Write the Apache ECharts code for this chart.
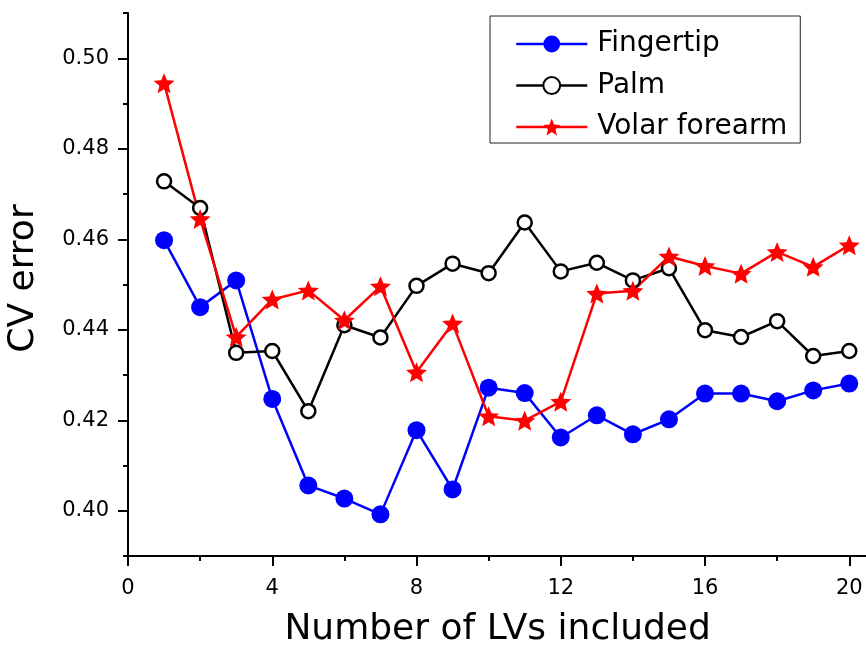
<!DOCTYPE html>
<html>
<head>
<meta charset="utf-8">
<script src="https://cdn.jsdelivr.net/npm/echarts@6/dist/echarts.min.js"></script>
<style>
  html, body { margin: 0; padding: 0; background: #fff; }
  #chart { width: 866px; height: 648px; }
</style>
</head>
<body>
<div id="chart"></div>
<script>
// Number of latent variables included in the model
const lvCount = [1, 2, 3, 4, 5, 6, 7, 8, 9, 10, 11, 12, 13, 14, 15, 16, 17, 18, 19, 20];

// Cross-validation error per measurement site
const fingertip = [0.4598, 0.4450, 0.4509, 0.4247, 0.4056, 0.4027, 0.3992, 0.4178, 0.4047, 0.4272,
                   0.4260, 0.4162, 0.4211, 0.4169, 0.4202, 0.4259, 0.4259, 0.4242, 0.4266, 0.4281];
const palm      = [0.4728, 0.4669, 0.4349, 0.4353, 0.4220, 0.4410, 0.4383, 0.4497, 0.4546, 0.4525,
                   0.4637, 0.4529, 0.4548, 0.4509, 0.4536, 0.4399, 0.4384, 0.4419, 0.4342, 0.4353];
const volar     = [0.4945, 0.4645, 0.4384, 0.4467, 0.4487, 0.4421, 0.4496, 0.4306, 0.4414, 0.4209,
                   0.4199, 0.4241, 0.4480, 0.4486, 0.4562, 0.4541, 0.4524, 0.4572, 0.4539, 0.4587];

const seriesNames = ['Fingertip', 'Palm', 'Volar forearm'];

// Axis tick positions
const xMajorTicks = [0, 4, 8, 12, 16, 20];
const xMinorTicks = [2, 6, 10, 14, 18];
const yMajorTicks = [0.40, 0.42, 0.44, 0.46, 0.48, 0.50];
const yMinorTicks = [0.39, 0.41, 0.43, 0.45, 0.47, 0.49, 0.51];

const FONT = 'DejaVu Sans';
const STAR = 'path://M0,-10 L2.645,-3.641 L9.511,-3.09 L4.28,1.391 L5.878,8.09 L0,4.5 L-5.878,8.09 L-4.28,1.391 L-9.511,-3.09 L-2.645,-3.641 Z';

const pairs = (ys) => lvCount.map((x, i) => [x, ys[i]]);

const axisLine = { show: true, lineStyle: { color: '#000', width: 2 } };

const chart = echarts.init(document.getElementById('chart'), null, { renderer: 'canvas' });

chart.setOption({
  animation: false,
  backgroundColor: '#fff',
  textStyle: { fontFamily: FONT, color: '#000' },
  grid: { left: 128, top: 13, width: 739.3, height: 543, containLabel: false, outerBoundsMode: 'none' },
  legend: {
    data: seriesNames,
    orient: 'vertical',
    left: 490,
    top: 16,
    padding: [14, 13, 2, 25],
    itemWidth: 71,
    itemHeight: 21,
    itemGap: 13.5,
    borderColor: '#222',
    borderWidth: 1,
    backgroundColor: '#fff',
    lineStyle: { width: 2.5 },
    textStyle: { fontFamily: FONT, fontSize: 28, color: '#000', padding: [0, 0, 0, 5] }
  },
  xAxis: [
    {
      type: 'value', min: 0, max: 20.5,
      axisLine: axisLine,
      splitLine: { show: false },
      axisTick: { show: true, inside: false, length: 10, lineStyle: { color: '#000', width: 2 }, customValues: xMajorTicks },
      axisLabel: { customValues: xMajorTicks, fontFamily: FONT, fontSize: 21, color: '#000', margin: 22 },
      name: 'Number of LVs included',
      nameLocation: 'middle',
      nameGap: 56,
      nameTextStyle: { fontFamily: FONT, fontSize: 36, color: '#000' }
    },
    {
      type: 'value', min: 0, max: 20.5, position: 'bottom',
      axisLine: { show: false },
      splitLine: { show: false },
      axisTick: { show: true, inside: false, length: 5, lineStyle: { color: '#000', width: 2 }, customValues: xMinorTicks },
      axisLabel: { show: false }
    }
  ],
  yAxis: [
    {
      type: 'value', min: 0.39, max: 0.51, position: 'left',
      axisLine: axisLine,
      splitLine: { show: false },
      axisTick: { show: true, inside: false, length: 10, lineStyle: { color: '#000', width: 2 }, customValues: yMajorTicks },
      axisLabel: { customValues: yMajorTicks, fontFamily: FONT, fontSize: 21, color: '#000', margin: 19,
                   formatter: (v) => v.toFixed(2) },
      name: 'CV error',
      nameLocation: 'middle',
      nameGap: 86,
      nameTextStyle: { fontFamily: FONT, fontSize: 36, color: '#000', padding: [0, 0, 0, 12] }
    },
    {
      type: 'value', min: 0.39, max: 0.51, position: 'left',
      axisLine: { show: false },
      splitLine: { show: false },
      axisTick: { show: true, inside: false, length: 5, lineStyle: { color: '#000', width: 2 }, customValues: yMinorTicks },
      axisLabel: { show: false }
    }
  ],
  series: [
    {
      name: 'Fingertip', type: 'line', xAxisIndex: 0, yAxisIndex: 0,
      data: pairs(fingertip),
      color: '#0000ff',
      symbol: 'circle', symbolSize: 18,
      lineStyle: { color: '#0000ff', width: 2.5 },
      itemStyle: { color: '#0000ff' }
    },
    {
      name: 'Palm', type: 'line', xAxisIndex: 0, yAxisIndex: 0,
      data: pairs(palm),
      color: '#000',
      symbol: 'circle', symbolSize: 14,
      lineStyle: { color: '#000', width: 2.5 },
      itemStyle: { color: '#fff', borderColor: '#000', borderWidth: 2.5 }
    },
    {
      name: 'Volar forearm', type: 'line', xAxisIndex: 0, yAxisIndex: 0,
      data: pairs(volar),
      color: '#ff0000',
      symbol: STAR, symbolSize: [21, 20],
      lineStyle: { color: '#ff0000', width: 2.5 },
      itemStyle: { color: '#ff0000' }
    }
  ]
});
</script>
</body>
</html>
